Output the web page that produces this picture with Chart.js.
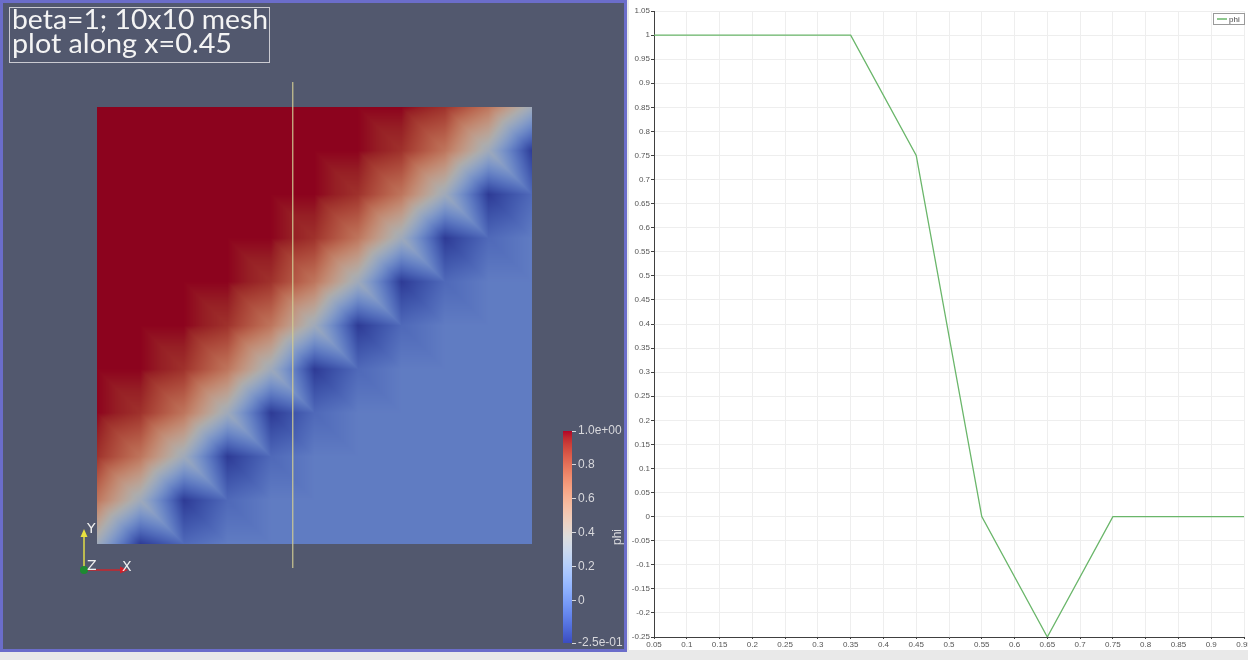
<!DOCTYPE html>
<html>
<head>
<meta charset="utf-8">
<script src="https://cdn.jsdelivr.net/npm/chart.js@4.4.1/dist/chart.umd.min.js"></script>
<style>
  html, body { margin: 0; padding: 0; }
  body { width: 1248px; height: 660px; background: #e9e9e9; position: relative; overflow: hidden; }
  #renderView { position: absolute; left: 0; top: 0; width: 627px; height: 652px; box-sizing: border-box;
                background: #52586e; border: 3px solid #6b6dca; }
  #renderCanvas { position: absolute; left: 0; top: 0; }
  #barCanvas { position: absolute; left: 540px; top: 415px; }
  #plotView { position: absolute; left: 629px; top: 0; width: 619px; height: 650px; background: #fff; }
  #plotCanvas { position: absolute; left: -1px; top: 0; }
</style>
</head>
<body>
<div id="renderView"></div>
<canvas id="renderCanvas" width="627" height="652"></canvas>
<canvas id="barCanvas" width="87" height="240"></canvas>
<div id="plotView"><canvas id="plotCanvas" width="620" height="650"></canvas></div>
<script>
// phi sampled along the probe line (arc length -> value)
const arcLength = [0.05, 0.35, 0.45, 0.55, 0.65, 0.75, 0.95];
const phiLine = [1, 1, 0.75, 0, -0.25, 0, 0];

const arcTicks = ['0.05', '0.1', '0.15', '0.2', '0.25', '0.3', '0.35', '0.4', '0.45', '0.5',
                  '0.55', '0.6', '0.65', '0.7', '0.75', '0.8', '0.85', '0.9', '0.95'];
const phiTicks = ['-0.25', '-0.2', '-0.15', '-0.1', '-0.05', '0', '0.05', '0.1', '0.15', '0.2',
                  '0.25', '0.3', '0.35', '0.4', '0.45', '0.5', '0.55', '0.6', '0.65', '0.7',
                  '0.75', '0.8', '0.85', '0.9', '0.95', '1', '1.05'];

// nodal phi on the 10x10 mesh, first row is y = 1, first column x = 0
const phiNodes = [
  [1, 1, 1, 1, 1, 1, 1, 1, 0.92, 0.7, 0.3],
  [1, 1, 1, 1, 1, 1, 1, 0.92, 0.7, 0.3, -0.25],
  [1, 1, 1, 1, 1, 1, 0.92, 0.7, 0.3, -0.25, -0.08],
  [1, 1, 1, 1, 1, 0.92, 0.7, 0.3, -0.25, -0.08, 0],
  [1, 1, 1, 1, 0.92, 0.7, 0.3, -0.25, -0.08, 0, 0],
  [1, 1, 1, 0.92, 0.7, 0.3, -0.25, -0.08, 0, 0, 0],
  [1, 1, 0.92, 0.7, 0.3, -0.25, -0.08, 0, 0, 0, 0],
  [1, 0.92, 0.7, 0.3, -0.25, -0.08, 0, 0, 0, 0, 0],
  [0.92, 0.7, 0.3, -0.25, -0.08, 0, 0, 0, 0, 0, 0],
  [0.7, 0.3, -0.25, -0.08, 0, 0, 0, 0, 0, 0, 0],
  [0.3, -0.25, -0.08, 0, 0, 0, 0, 0, 0, 0, 0]
];
const probeX = 0.45;
const probeY = [1.057, -0.055];

const phiRange = [-0.25, 1];
const barTicks = [-0.25, 0, 0.2, 0.4, 0.6, 0.8, 1];
const barLabels = ['-2.5e-01', '0', '0.2', '0.4', '0.6', '0.8', '1.0e+00'];

// cool to warm diverging map
const coolWarm = [
  [59,76,192],[68,90,204],[77,104,215],[87,117,225],[98,130,234],[108,142,241],[119,154,247],
  [130,165,251],[141,176,254],[152,185,255],[163,194,255],[174,201,253],[184,208,249],
  [194,213,244],[204,217,238],[213,219,230],[221,221,221],[229,216,209],[236,211,197],
  [241,204,185],[245,196,173],[247,187,160],[247,177,148],[247,166,135],[244,154,123],
  [241,141,111],[236,127,99],[229,112,88],[222,96,77],[213,80,66],[203,62,56],[192,40,47],[180,4,38]
];
function cmap(t) {
  t = Math.min(1, Math.max(0, t)) * (coolWarm.length - 1);
  const k = Math.min(Math.floor(t), coolWarm.length - 2), f = t - k;
  const a = coolWarm[k], b = coolWarm[k + 1];
  return [a[0] + (b[0] - a[0]) * f, a[1] + (b[1] - a[1]) * f, a[2] + (b[2] - a[2]) * f];
}

const nCells = phiNodes.length - 1;
function nodeVal(i, j) { return phiNodes[nCells - j][i]; }

// linear interpolation on triangles (cells split along the \ diagonal)
function sampleField(vx, vy) {
  const gx = vx * nCells, gy = vy * nCells;
  const i = Math.max(0, Math.min(Math.floor(gx), nCells - 1));
  const j = Math.max(0, Math.min(Math.floor(gy), nCells - 1));
  const s = gx - i, t = gy - j;
  const b = nodeVal(i + 1, j), c = nodeVal(i, j + 1);
  if (s + t <= 1) {
    const a = nodeVal(i, j);
    return a + (b - a) * s + (c - a) * t;
  }
  const d = nodeVal(i + 1, j + 1);
  return d + (c - d) * (1 - s) + (b - d) * (1 - t);
}

const fieldPlugin = {
  id: 'phiField',
  beforeDatasetsDraw(chart) {
    const { ctx, chartArea: area, scales: { x, y } } = chart;
    const left = Math.round(area.left), top = Math.round(area.top);
    const w = Math.round(area.right) - left, h = Math.round(area.bottom) - top;
    const img = ctx.createImageData(w, h);
    const shade = 0.78;
    for (let py = 0; py < h; py++) {
      const vy = y.getValueForPixel(top + py + 0.5);
      for (let px = 0; px < w; px++) {
        const vx = x.getValueForPixel(left + px + 0.5);
        const v = sampleField(vx, vy);
        const c = cmap((v - phiRange[0]) / (phiRange[1] - phiRange[0]));
        const o = (py * w + px) * 4;
        img.data[o] = c[0] * shade;
        img.data[o + 1] = c[1] * shade;
        img.data[o + 2] = c[2] * shade;
        img.data[o + 3] = 255;
      }
    }
    ctx.putImageData(img, left, top);
  }
};

function fitText(ctx, text, x, y, width) {
  const m = ctx.measureText(text).width;
  ctx.save();
  ctx.translate(x, y);
  ctx.scale(width / m, 1);
  ctx.fillText(text, 0, 0);
  ctx.restore();
}

const overlayPlugin = {
  id: 'overlay',
  afterDraw(chart) {
    const ctx = chart.ctx;
    ctx.save();
    // caption box
    ctx.strokeStyle = 'rgba(215,215,220,0.9)';
    ctx.lineWidth = 1;
    ctx.strokeRect(9.5, 7.5, 260, 55);
    ctx.fillStyle = '#f4f4f4';
    ctx.font = '26px Lato, "Open Sans", sans-serif';
    ctx.textBaseline = 'alphabetic';
    fitText(ctx, 'beta=1; 10x10 mesh', 12, 29, 256);
    fitText(ctx, 'plot along x=0.45', 12, 53, 220);

    // orientation axes
    const ox = 84, oy = 570;
    ctx.lineWidth = 1.5;
    ctx.strokeStyle = '#e2dc48';
    ctx.beginPath(); ctx.moveTo(ox, oy); ctx.lineTo(ox, 536); ctx.stroke();
    ctx.fillStyle = '#e8e040';
    ctx.beginPath(); ctx.moveTo(ox - 3.5, 537); ctx.lineTo(ox + 3.5, 537); ctx.lineTo(ox, 529); ctx.fill();
    ctx.strokeStyle = '#c8262e';
    ctx.beginPath(); ctx.moveTo(ox, oy); ctx.lineTo(121, oy); ctx.stroke();
    ctx.fillStyle = '#d0202a';
    ctx.beginPath(); ctx.moveTo(120, oy - 3.5); ctx.lineTo(120, oy + 3.5); ctx.lineTo(128, oy); ctx.fill();
    ctx.fillStyle = '#1e8a32';
    ctx.beginPath(); ctx.arc(ox, oy, 4, 0, Math.PI * 2); ctx.fill();
    ctx.fillStyle = '#f0f0f0';
    ctx.font = '14px "DejaVu Sans", sans-serif';
    ctx.fillText('Y', 87, 533);
    ctx.fillText('Z', 87, 570);
    ctx.fillText('X', 122, 571);
    ctx.restore();
  }
};

new Chart(document.getElementById('renderCanvas'), {
  type: 'scatter',
  data: {
    datasets: [{
      data: [{ x: probeX, y: probeY[0] }, { x: probeX, y: probeY[1] }],
      showLine: true,
      borderColor: 'rgba(210,206,150,0.55)',
      borderWidth: 1,
      pointRadius: 0,
      clip: false
    }]
  },
  options: {
    responsive: false,
    animation: false,
    events: [],
    layout: { padding: { left: 97, right: 95, top: 107, bottom: 108 } },
    plugins: { legend: { display: false }, tooltip: { enabled: false } },
    scales: {
      x: { type: 'linear', min: 0, max: 1, display: false },
      y: { type: 'linear', min: 0, max: 1, display: false }
    }
  },
  plugins: [fieldPlugin, overlayPlugin]
});

// scalar bar
const barTitle = {
  id: 'barTitle',
  afterDraw(chart) {
    const ctx = chart.ctx;
    ctx.save();
    ctx.translate(78, 122);
    ctx.rotate(-Math.PI / 2);
    ctx.fillStyle = '#d8d8dc';
    ctx.font = '12px "Liberation Sans", Arial, sans-serif';
    ctx.textAlign = 'center';
    ctx.textBaseline = 'middle';
    ctx.fillText('phi', 0, 0);
    ctx.restore();
  }
};

new Chart(document.getElementById('barCanvas'), {
  type: 'bar',
  data: {
    labels: [''],
    datasets: [{
      data: [phiRange],
      categoryPercentage: 1,
      barPercentage: 1,
      backgroundColor(c) {
        const area = c.chart.chartArea;
        if (!area) return '#888';
        const g = c.chart.ctx.createLinearGradient(0, area.bottom, 0, area.top);
        coolWarm.forEach((col, k) => g.addColorStop(k / (coolWarm.length - 1), 'rgb(' + col.join(',') + ')'));
        return g;
      }
    }]
  },
  options: {
    responsive: false,
    animation: false,
    events: [],
    layout: { padding: { left: 23, right: 0, top: 16, bottom: 12 } },
    plugins: { legend: { display: false }, tooltip: { enabled: false } },
    scales: {
      x: { display: false },
      y: {
        position: 'right',
        min: phiRange[0],
        max: phiRange[1],
        afterBuildTicks(s) { s.ticks = barTicks.map(v => ({ value: v })); },
        afterFit(s) { s.width = 55; s.paddingTop = 0; s.paddingBottom = 0; },
        border: { display: false },
        grid: { drawOnChartArea: false, drawTicks: true, tickLength: 4, tickColor: '#d8d8dc' },
        ticks: {
          autoSkip: false,
          padding: 2,
          color: '#d8d8dc',
          font: { family: '"Liberation Sans", Arial, sans-serif', size: 12 },
          callback: (v) => barLabels[barTicks.indexOf(v)]
        }
      }
    }
  },
  plugins: [barTitle]
});

// line plot legend
const legendBox = {
  id: 'legendBox',
  afterDraw(chart) {
    const ctx = chart.ctx;
    const ds = chart.data.datasets[0];
    ctx.save();
    ctx.fillStyle = '#fff';
    ctx.fillRect(585, 13, 31, 11);
    ctx.strokeStyle = '#9a9a9a';
    ctx.lineWidth = 1;
    ctx.strokeRect(585.5, 13.5, 31, 11);
    ctx.strokeStyle = ds.borderColor;
    ctx.lineWidth = 1.5;
    ctx.beginPath(); ctx.moveTo(589, 19); ctx.lineTo(599, 19); ctx.stroke();
    ctx.fillStyle = '#444';
    ctx.font = '8px "Liberation Sans", Arial, sans-serif';
    ctx.textBaseline = 'middle';
    ctx.fillText(ds.label, 601, 19.5);
    ctx.restore();
  }
};

const tickFont = { family: '"Liberation Sans", Arial, sans-serif', size: 8 };

new Chart(document.getElementById('plotCanvas'), {
  type: 'line',
  data: {
    datasets: [{
      label: 'phi',
      data: arcLength.map((s, k) => ({ x: s, y: phiLine[k] })),
      borderColor: '#6ab66a',
      borderWidth: 1.3,
      pointRadius: 0,
      tension: 0
    }]
  },
  options: {
    responsive: false,
    animation: false,
    events: [],
    layout: { padding: { left: 0, right: 4, top: 11, bottom: 0 } },
    plugins: { legend: { display: false }, tooltip: { enabled: false } },
    scales: {
      x: {
        type: 'linear',
        min: 0.05,
        max: 0.95,
        afterBuildTicks(s) { s.ticks = arcTicks.map(t => ({ value: parseFloat(t) })); },
        afterFit(s) { s.height = 13; s.paddingLeft = 0; s.paddingRight = 0; },
        border: { color: '#404040', width: 1 },
        grid: { color: '#eeeeee', tickColor: '#404040', tickLength: 2 },
        ticks: { autoSkip: false, maxRotation: 0, padding: 1, color: '#555', font: tickFont,
                 callback: (v, i) => arcTicks[i] }
      },
      y: {
        type: 'linear',
        min: -0.25,
        max: 1.05,
        afterBuildTicks(s) { s.ticks = phiTicks.map(t => ({ value: parseFloat(t) })); },
        afterFit(s) { s.width = 26; s.paddingTop = 0; s.paddingBottom = 0; },
        border: { color: '#404040', width: 1 },
        grid: { color: '#eeeeee', tickColor: '#404040', tickLength: 3 },
        ticks: { autoSkip: false, padding: 1, color: '#555', font: tickFont,
                 callback: (v, i) => phiTicks[i] }
      }
    }
  },
  plugins: [legendBox]
});
</script>
</body>
</html>
